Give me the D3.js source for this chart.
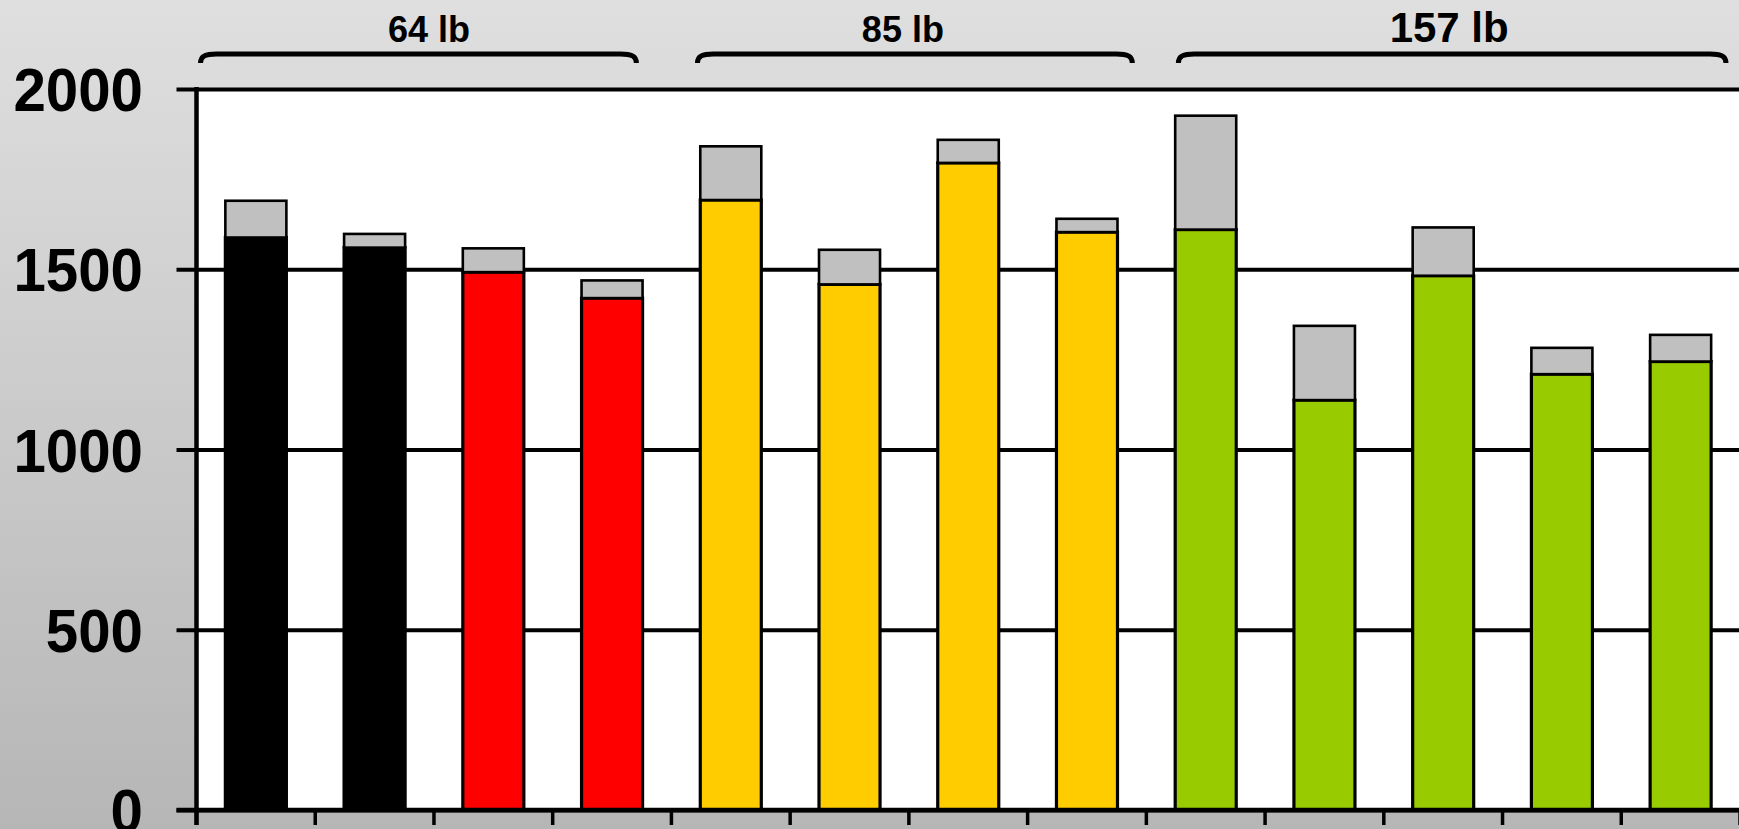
<!DOCTYPE html>
<html>
<head>
<meta charset="utf-8">
<script src="https://cdn.jsdelivr.net/npm/d3@7"></script>
<style>
html,body{margin:0;padding:0;overflow:hidden;background:#ccc;}
svg{display:block;}
</style>
</head>
<body>
<svg id="chart" width="1739" height="829"></svg>
<script>
// ---- data ----
const categories = ["64-1","64-2","64-3","64-4","85-1","85-2","85-3","85-4","157-1","157-2","157-3","157-4","157-5"];
const baseValues  = [1588,1560,1492,1420,1692,1458,1795,1603,1610,1137,1482,1209,1244];
const totalValues = [1690,1598,1558,1469,1841,1554,1859,1640,1926,1343,1616,1282,1318];
const barColors   = ["#000000","#000000","#ff0000","#ff0000","#ffcc00","#ffcc00","#ffcc00","#ffcc00","#99cc00","#99cc00","#99cc00","#99cc00","#99cc00"];
const groupLabels = ["64 lb","85 lb","157 lb"];
const groupFirst  = [0,4,8];
const groupLast   = [3,7,12];
const yTicks      = [0,500,1000,1500,2000];

// ---- layout (pixels, not data) ----
const W = 1739, H = 829;
const plotLeft = 196.5, plotRight = 1740, plotTop = 89, plotBottom = 810;
const pad = 0.486;
const braceInsets = [[4,35],[26,14],[32,14]];
const labelShift = [-5,-6,6];
const labelSize = [36,36,42];
const FONT = "'Liberation Sans', Arial, Helvetica, sans-serif";

const svg = d3.select("#chart");

// background gradient
const defs = svg.append("defs");
const grad = defs.append("linearGradient").attr("id","bg").attr("x1",0).attr("y1",0).attr("x2",0).attr("y2",1);
grad.append("stop").attr("offset","0%").attr("stop-color","#dfdfdf");
grad.append("stop").attr("offset","100%").attr("stop-color","#b6b6b6");
svg.append("rect").attr("width",W).attr("height",H).attr("fill","url(#bg)");

const x = d3.scaleBand().domain(categories).range([plotLeft, plotRight])
  .paddingInner(pad).paddingOuter(pad/2);
const y = d3.scaleLinear().domain([0,2000]).range([plotBottom, plotTop]);
const step = x.step();
const bw = x.bandwidth();

// plot area
svg.append("rect").attr("x",plotLeft).attr("y",plotTop)
  .attr("width",plotRight-plotLeft).attr("height",plotBottom-plotTop).attr("fill","#fff");

// gridlines + left ticks
const yAxis = d3.axisLeft(y).tickValues(yTicks).tickSize(-(plotRight-plotLeft)).tickFormat("");
const gy = svg.append("g").attr("transform",`translate(${plotLeft},0)`).call(yAxis);
gy.select(".domain").remove();
gy.selectAll(".tick line").attr("stroke","#000").attr("stroke-width",4).attr("x1",-20);

// y tick labels (slightly condensed)
svg.append("g").selectAll("text").data(yTicks).join("text")
  .attr("transform",d=>`translate(143,${y(d)+22}) scale(0.955,1)`)
  .attr("text-anchor","end")
  .attr("font-family",FONT).attr("font-weight","bold").attr("font-size",61)
  .attr("fill","#000").text(d=>d);

// y axis line
svg.append("line").attr("x1",plotLeft).attr("x2",plotLeft).attr("y1",plotTop-2).attr("y2",plotBottom+15)
  .attr("stroke","#000").attr("stroke-width",4.5);

// bottom ticks at band boundaries
const boundaries = categories.map(c=>x(c)-step*pad/2).concat([plotRight]);
svg.append("g").selectAll("line").data(boundaries).join("line")
  .attr("x1",d=>d).attr("x2",d=>d).attr("y1",plotBottom).attr("y2",plotBottom+15)
  .attr("stroke","#000").attr("stroke-width",3.5);

// bars: colored base segment, grey top segment
const bars = svg.append("g");
categories.forEach((c,i)=>{
  bars.append("rect")
    .attr("x",x(c)).attr("width",bw)
    .attr("y",y(baseValues[i])).attr("height",y(0)-y(baseValues[i]))
    .attr("fill",barColors[i]).attr("stroke","#000").attr("stroke-width",3.2);
  bars.append("rect")
    .attr("x",x(c)).attr("width",bw)
    .attr("y",y(totalValues[i])).attr("height",y(baseValues[i])-y(totalValues[i]))
    .attr("fill","#c0c0c0").attr("stroke","#000").attr("stroke-width",2.6);
});

// x axis line
svg.append("line").attr("x1",plotLeft-20).attr("x2",W).attr("y1",plotBottom).attr("y2",plotBottom)
  .attr("stroke","#000").attr("stroke-width",4.5);

// group braces + labels
groupLabels.forEach((g,i)=>{
  const start = x(categories[groupFirst[i]]) - step*pad/2;
  const end = x(categories[groupLast[i]]) + bw + step*pad/2;
  const x0 = start + braceInsets[i][0], x1 = end - braceInsets[i][1];
  const yl = 54, ye = 63;
  svg.append("path")
    .attr("d",`M${x0},${ye} C${x0},${yl+2} ${x0+5},${yl} ${x0+16},${yl} L${x1-16},${yl} C${x1-5},${yl} ${x1},${yl+2} ${x1},${ye}`)
    .attr("fill","none").attr("stroke","#000").attr("stroke-width",5);
  svg.append("text")
    .attr("x",(start+end)/2 + labelShift[i]).attr("y",41.5)
    .attr("text-anchor","middle")
    .attr("font-family",FONT).attr("font-weight","bold").attr("font-size",labelSize[i])
    .attr("fill","#000").text(g);
});
</script>
</body>
</html>
